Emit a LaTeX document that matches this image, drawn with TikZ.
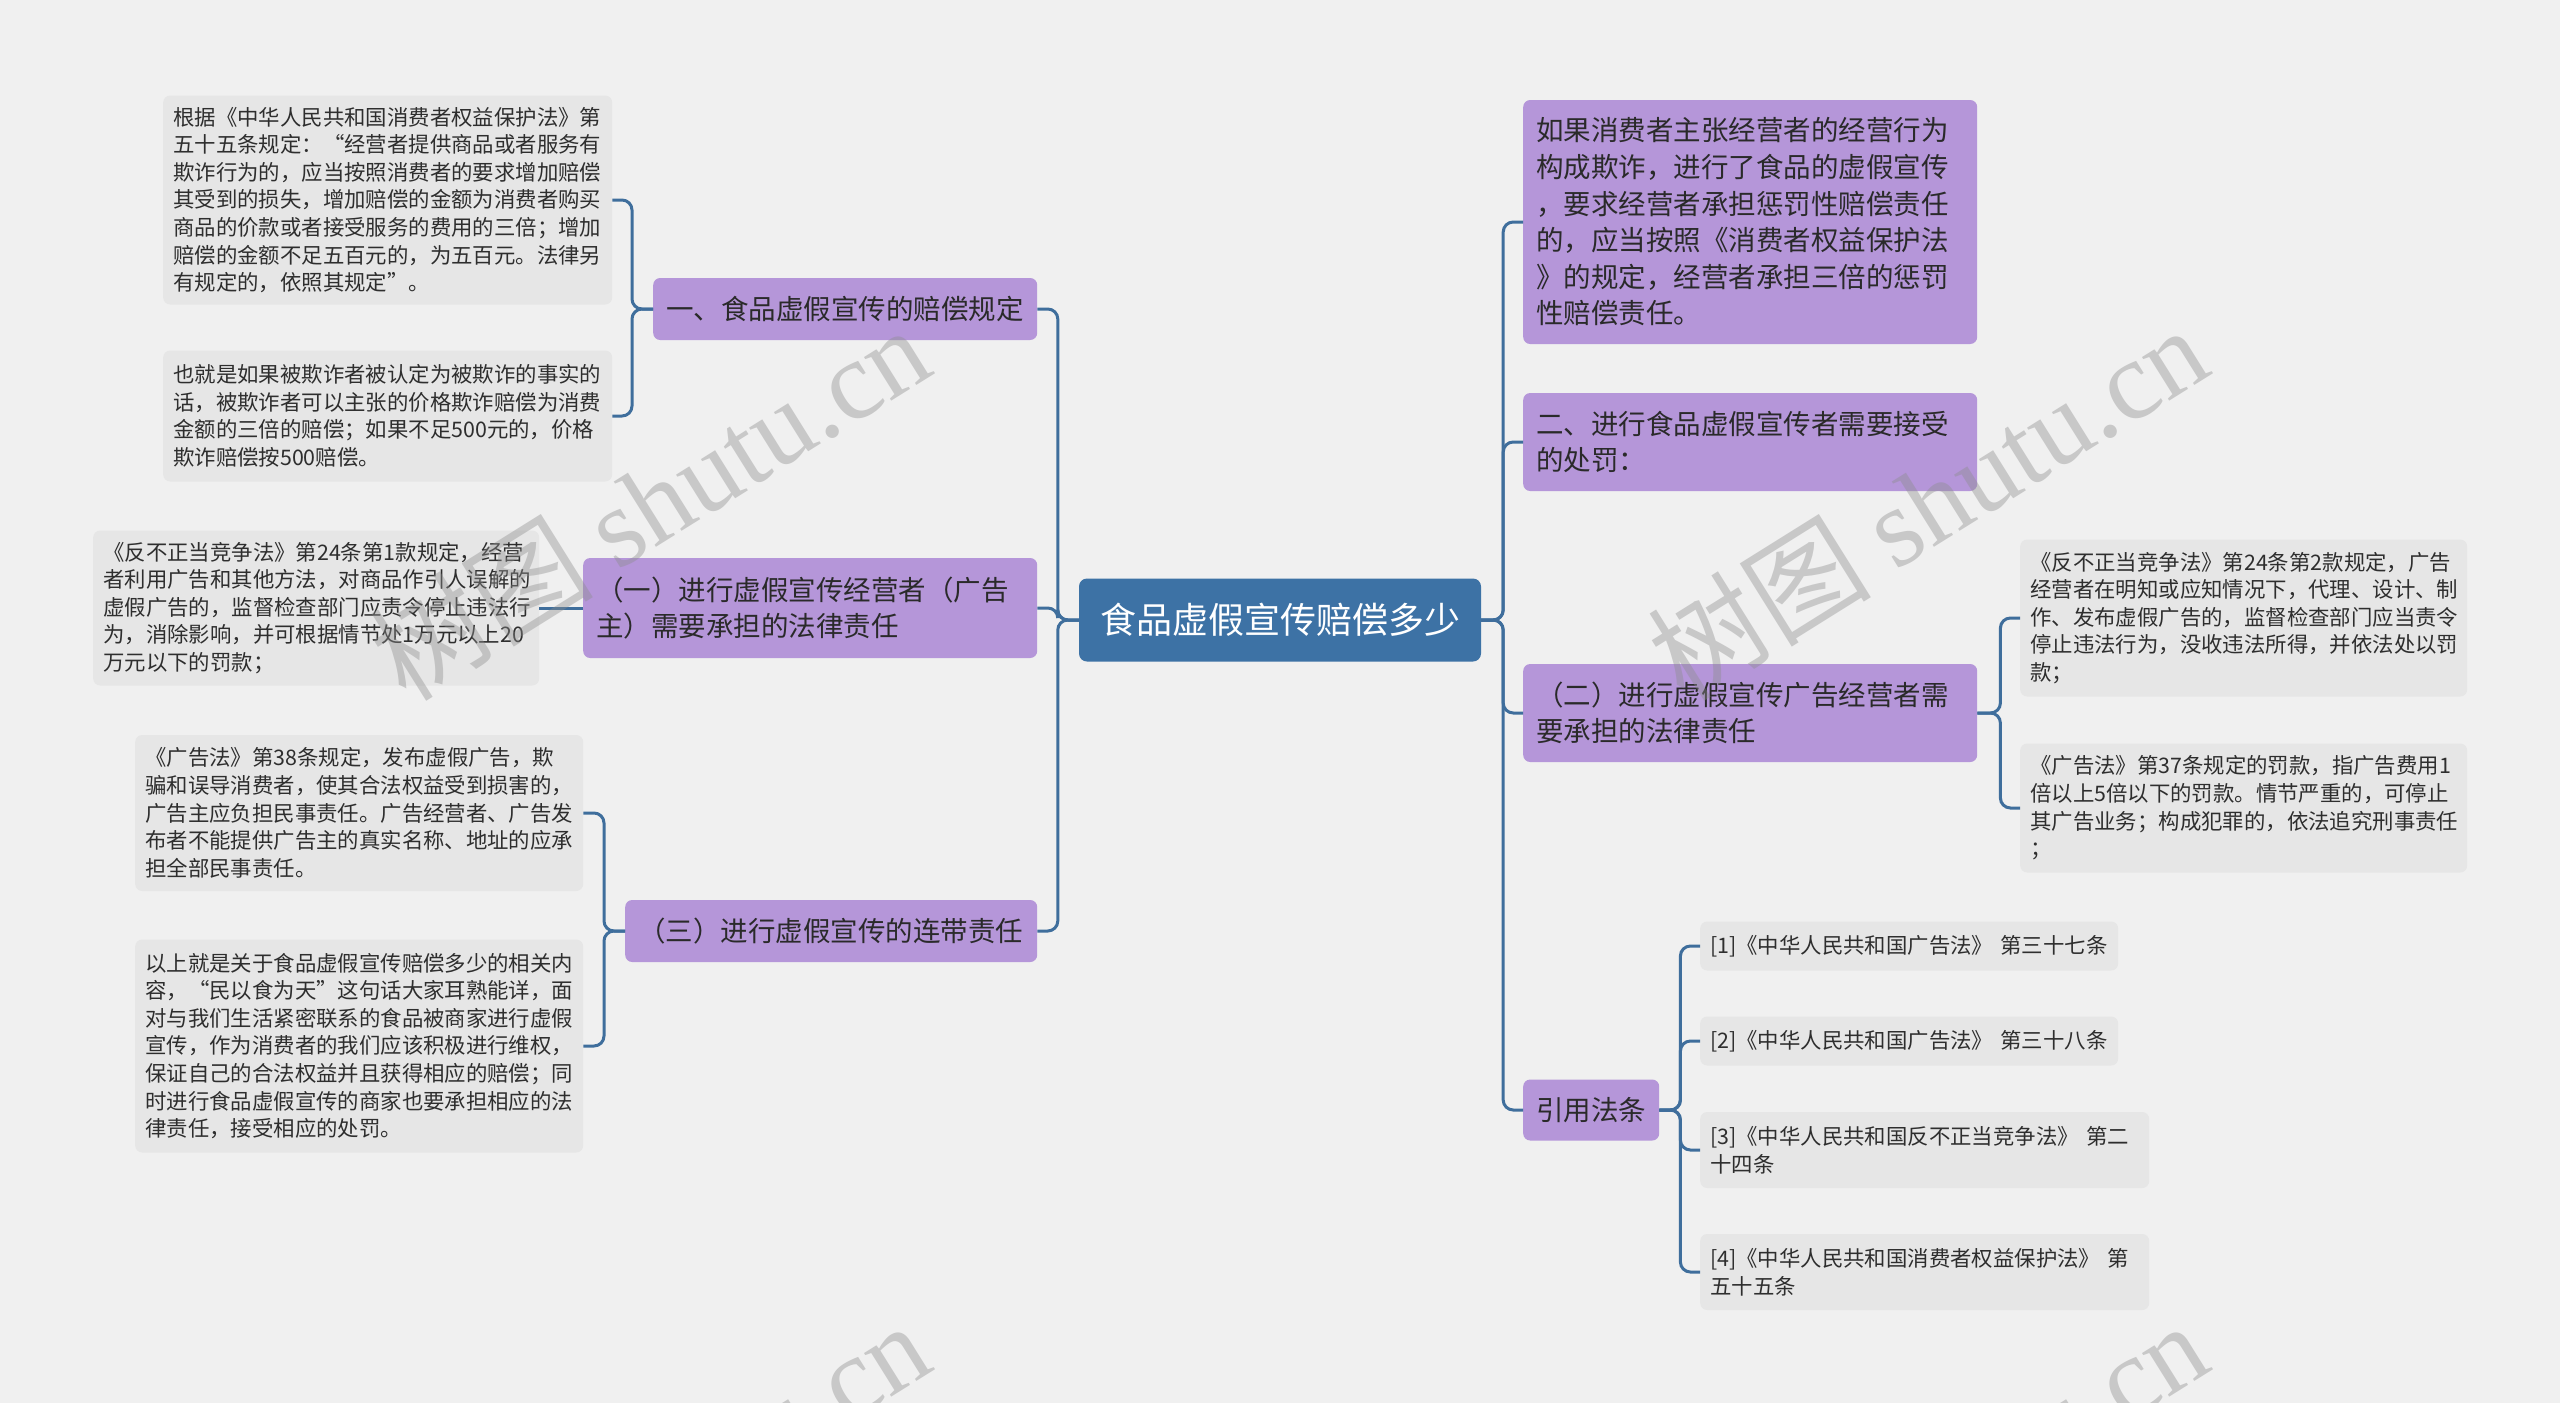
\documentclass[tikz,border=0pt]{standalone}
\usepackage{fontspec}
\setmainfont{Noto Sans CJK SC}
\newfontfamily\wmserif{Liberation Serif}
\definecolor{bgc}{HTML}{F0F0F0}
\definecolor{leafc}{HTML}{E6E6E6}
\definecolor{leaftext}{HTML}{2E2E2E}
\definecolor{purp}{HTML}{B596D9}
\definecolor{purptext}{HTML}{2A2A2A}
\definecolor{rootc}{HTML}{3D72A5}
\definecolor{linec}{HTML}{3F6E9C}
\definecolor{wmc}{HTML}{8C8C8C}
\tikzset{
  conn/.style={draw=linec, line width=3pt, rounded corners=10pt},
  box/.style={rounded corners=7pt, align=left, inner ysep=4pt, anchor=west},
  leaf/.style={box, fill=leafc, text=leaftext, inner xsep=10pt, font=\fontsize{21.4}{27.6}\selectfont},
  topic/.style={box, fill=purp, text=purptext, inner xsep=13pt, font=\fontsize{27.5}{36.6}\selectfont},
  rootn/.style={fill=rootc, text=white, rounded corners=8pt, align=center, font=\fontsize{36}{44}\selectfont, minimum width=402pt, minimum height=83pt, inner sep=0pt},
  wm/.style={text=wmc, opacity=0.4, rotate=32, font=\fontsize{112}{120}\selectfont, inner sep=0pt},
}
\begin{document}
\begin{tikzpicture}[x=1pt,y=-1pt]
\fill[bgc] (0,0) rectangle (2560,1403);
\useasboundingbox (0,0) rectangle (2560,1403);

% root
\node[rootn] (root) at (1280,620) {食品虚假宣传赔偿多少};

% left topics
\node[topic, text width=358pt, minimum height=62pt] (l1) at (653,309) {一、食品虚假宣传的赔偿规定};
\node[topic, text width=428pt, minimum height=100pt] (l2) at (583,608) {（一）进行虚假宣传经营者（广告\\主）需要承担的法律责任};
\node[topic, text width=386pt, minimum height=62pt] (l3) at (625,931) {（三）进行虚假宣传的连带责任};

% right topics
\node[topic, text width=428pt, minimum height=244pt] (r1) at (1523,222) {如果消费者主张经营者的经营行为\\构成欺诈，进行了食品的虚假宣传\\，要求经营者承担惩罚性赔偿责任\\的，应当按照《消费者权益保护法\\》的规定，经营者承担三倍的惩罚\\性赔偿责任。};
\node[topic, text width=428pt, minimum height=98pt] (r2) at (1523,442) {二、进行食品虚假宣传者需要接受\\的处罚：};
\node[topic, text width=428pt, minimum height=98pt] (r3) at (1523,713) {（二）进行虚假宣传广告经营者需\\要承担的法律责任};
\node[topic, text width=110pt, minimum height=61pt] (r4) at (1523,1110) {引用法条};

% left leaves
\node[leaf, text width=429pt, minimum height=209pt] (ll1) at (163,200) {根据《中华人民共和国消费者权益保护法》第\\五十五条规定：“经营者提供商品或者服务有\\欺诈行为的，应当按照消费者的要求增加赔偿\\其受到的损失，增加赔偿的金额为消费者购买\\商品的价款或者接受服务的费用的三倍；增加\\赔偿的金额不足五百元的，为五百元。法律另\\有规定的，依照其规定”。};
\node[leaf, text width=429pt, minimum height=131pt] (ll2) at (163,416) {也就是如果被欺诈者被认定为被欺诈的事实的\\话，被欺诈者可以主张的价格欺诈赔偿为消费\\金额的三倍的赔偿；如果不足500元的，价格\\欺诈赔偿按500赔偿。};
\node[leaf, text width=426pt, minimum height=155pt] (ll3) at (93,608) {《反不正当竞争法》第24条第1款规定，经营\\者利用广告和其他方法，对商品作引人误解的\\虚假广告的，监督检查部门应责令停止违法行\\为，消除影响，并可根据情节处1万元以上20\\万元以下的罚款；};
\node[leaf, text width=428pt, minimum height=156pt] (ll4) at (135,813) {《广告法》第38条规定，发布虚假广告，欺\\骗和误导消费者，使其合法权益受到损害的，\\广告主应负担民事责任。广告经营者、广告发\\布者不能提供广告主的真实名称、地址的应承\\担全部民事责任。};
\node[leaf, text width=428pt, minimum height=213pt] (ll5) at (135,1046) {以上就是关于食品虚假宣传赔偿多少的相关内\\容，“民以食为天”这句话大家耳熟能详，面\\对与我们生活紧密联系的食品被商家进行虚假\\宣传，作为消费者的我们应该积极进行维权，\\保证自己的合法权益并且获得相应的赔偿；同\\时进行食品虚假宣传的商家也要承担相应的法\\律责任，接受相应的处罚。};

% right leaves
\node[leaf, text width=427pt, minimum height=157pt] (rl1) at (2020,618) {《反不正当竞争法》第24条第2款规定，广告\\经营者在明知或应知情况下，代理、设计、制\\作、发布虚假广告的，监督检查部门应当责令\\停止违法行为，没收违法所得，并依法处以罚\\款；};
\node[leaf, text width=427pt, minimum height=129pt] (rl2) at (2020,808) {《广告法》第37条规定的罚款，指广告费用1\\倍以上5倍以下的罚款。情节严重的，可停止\\其广告业务；构成犯罪的，依法追究刑事责任\\；};
\node[leaf, text width=398pt, minimum height=49pt] (ref1) at (1700,946) {[1]《中华人民共和国广告法》 第三十七条};
\node[leaf, text width=398pt, minimum height=49pt] (ref2) at (1700,1041) {[2]《中华人民共和国广告法》 第三十八条};
\node[leaf, text width=429pt, minimum height=76pt] (ref3) at (1700,1150) {[3]《中华人民共和国反不正当竞争法》 第二\\十四条};
\node[leaf, text width=429pt, minimum height=76pt] (ref4) at (1700,1272) {[4]《中华人民共和国消费者权益保护法》 第\\五十五条};

% connectors
\foreach \c in {l1,l2,l3} \draw[conn] (root.west) -- ++(-21,0) |- (\c.east);
\foreach \c in {r1,r2,r3,r4} \draw[conn] (root.east) -- ++(22,0) |- (\c.west);
\foreach \c in {ll1,ll2} \draw[conn] (l1.west) -- ++(-21,0) |- (\c.east);
\draw[conn] (l2.west) -- (ll3.east);
\foreach \c in {ll4,ll5} \draw[conn] (l3.west) -- ++(-21,0) |- (\c.east);
\foreach \c in {rl1,rl2} \draw[conn] (r3.east) -- ++(23,0) |- (\c.west);
\foreach \c in {ref1,ref2,ref3,ref4} \draw[conn] (r4.east) -- ++(21,0) |- (\c.west);

% watermarks
\begin{scope}
\clip (0,0) rectangle (2560,1403);
\node[wm] (wm1) at (649,502) {树图 {\wmserif shutu.cn}};
\node[wm] (wm2) at (1927,502) {树图 {\wmserif shutu.cn}};
\node[wm] (wm3) at (649,1498) {树图 {\wmserif shutu.cn}};
\node[wm] (wm4) at (1927,1498) {树图 {\wmserif shutu.cn}};
\end{scope}
\end{tikzpicture}
\end{document}
